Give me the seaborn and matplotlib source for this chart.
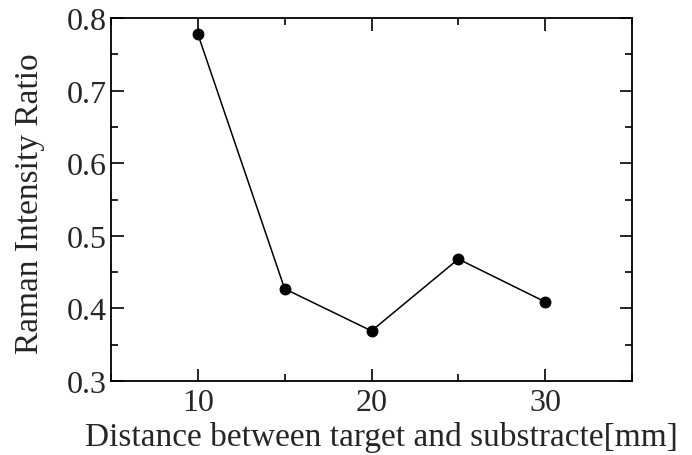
import matplotlib
matplotlib.use("Agg")
import matplotlib.pyplot as plt
import seaborn as sns
import pandas as pd
from matplotlib.ticker import MultipleLocator

distance = [10, 15, 20, 25, 30]
ratio = [0.778, 0.427, 0.369, 0.468, 0.409]

sns.set_style("ticks")
plt.rcParams['font.family'] = ['Liberation Serif', 'DejaVu Serif']

df = pd.DataFrame({"x": distance, "y": ratio})

fig = plt.figure(figsize=(6.92, 4.56), dpi=100)
ax = fig.add_axes([111/692, 1-382/456, (632-111)/692, (382-19)/456])
sns.lineplot(data=df, x="x", y="y", ax=ax, color="black", linewidth=1.1,
             marker="o", markersize=7.8, markeredgecolor="black", markerfacecolor="black")

ax.set_xlim(5, 35)
ax.set_ylim(0.3, 0.8)
ax.xaxis.set_major_locator(MultipleLocator(10))
ax.xaxis.set_minor_locator(MultipleLocator(5))
ax.yaxis.set_major_locator(MultipleLocator(0.1))
ax.yaxis.set_minor_locator(MultipleLocator(0.05))
ax.tick_params(which="both", direction="in", top=True, right=True, width=1.2, color="black",
               labelsize=23)
ax.tick_params(axis="x", which="major", pad=5)
ax.tick_params(axis="y", which="major", pad=3)
ax.tick_params(which="major", length=9)
ax.tick_params(which="minor", length=5)
for s in ax.spines.values():
    s.set_linewidth(1.3)
    s.set_color("black")
ax.set_xlabel("Distance between target and substracte[mm]", fontsize=24, labelpad=3)
ax.set_ylabel("Raman Intensity Ratio", fontsize=24, labelpad=16)
ax.xaxis.label.set_x(0.52)
ax.yaxis.label.set_y(0.49)
fig.savefig("out.png", dpi=100)
